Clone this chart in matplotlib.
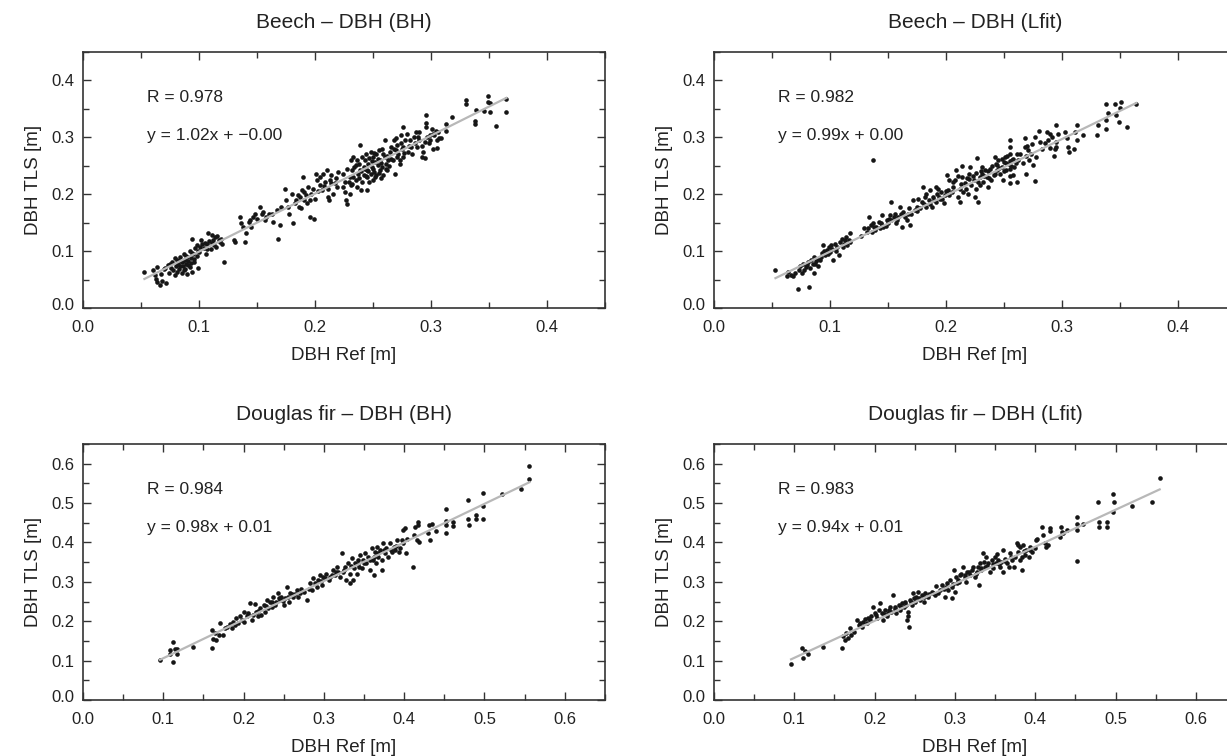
import numpy as np
import matplotlib.pyplot as plt
from matplotlib.ticker import MultipleLocator, FormatStrFormatter
from matplotlib.transforms import ScaledTranslation

plt.rcParams['font.family'] = ['Liberation Sans', 'DejaVu Sans']

titles = ['Beech \u2013 DBH (BH)', 'Beech \u2013 DBH (Lfit)',
          'Douglas fir \u2013 DBH (BH)', 'Douglas fir \u2013 DBH (Lfit)']
r_text = ['R = 0.978', 'R = 0.982', 'R = 0.984', 'R = 0.983']
fit_text = ['y = 1.02x + \u22120.00', 'y = 0.99x + 0.00',
            'y = 0.98x + 0.01', 'y = 0.94x + 0.01']
slopes = [1.02, 0.99, 0.98, 0.94]
intercepts = [-0.003, 0.0, 0.008, 0.013]
axis_max = [0.45, 0.45, 0.65, 0.65]

# DBH Ref [m], DBH TLS [m] pairs
beech_bh = np.array([
    (0.053, 0.063), (0.060, 0.066), (0.062, 0.058), (0.063, 0.051), (0.064, 0.045), (0.066, 0.041),
    (0.068, 0.047), (0.072, 0.044), (0.064, 0.072), (0.067, 0.060), (0.070, 0.068), (0.073, 0.075),
    (0.074, 0.062), (0.076, 0.070), (0.077, 0.080), (0.078, 0.066), (0.079, 0.058), (0.080, 0.073),
    (0.081, 0.085), (0.082, 0.078), (0.083, 0.069), (0.084, 0.090), (0.085, 0.080), (0.085, 0.062),
    (0.086, 0.074), (0.087, 0.095), (0.088, 0.085), (0.088, 0.068), (0.089, 0.078), (0.090, 0.090),
    (0.090, 0.060), (0.091, 0.083), (0.092, 0.072), (0.092, 0.100), (0.093, 0.088), (0.094, 0.064),
    (0.095, 0.095), (0.096, 0.080), (0.097, 0.105), (0.098, 0.091), (0.099, 0.070),
    (0.071, 0.071), (0.075, 0.077), (0.079, 0.088), (0.081, 0.064), (0.083, 0.082), (0.084, 0.074),
    (0.086, 0.083), (0.087, 0.066), (0.089, 0.092), (0.091, 0.076), (0.093, 0.079), (0.094, 0.097),
    (0.096, 0.087), (0.099, 0.101), (0.103, 0.112), (0.107, 0.104), (0.111, 0.114), (0.117, 0.120),
    (0.094, 0.122), (0.098, 0.110), (0.101, 0.108), (0.105, 0.115), (0.108, 0.131), (0.111, 0.128),
    (0.112, 0.119), (0.114, 0.125), (0.115, 0.108), (0.118, 0.116), (0.122, 0.081),
    (0.100, 0.098), (0.102, 0.120), (0.104, 0.105), (0.106, 0.095), (0.107, 0.112), (0.109, 0.118),
    (0.110, 0.103), (0.113, 0.110), (0.116, 0.127), (0.119, 0.122), (0.120, 0.112),
    (0.130, 0.119), (0.131, 0.116), (0.135, 0.160), (0.136, 0.149), (0.138, 0.143), (0.140, 0.116),
    (0.141, 0.131), (0.143, 0.152), (0.144, 0.154), (0.145, 0.143), (0.147, 0.160), (0.148, 0.166),
    (0.150, 0.157), (0.153, 0.178), (0.154, 0.166), (0.155, 0.169), (0.157, 0.154), (0.158, 0.160),
    (0.160, 0.166), (0.163, 0.166), (0.164, 0.151), (0.167, 0.172), (0.168, 0.122), (0.170, 0.146),
    (0.171, 0.178),
    (0.174, 0.210), (0.175, 0.189), (0.177, 0.178), (0.178, 0.166), (0.180, 0.201), (0.181, 0.149),
    (0.183, 0.184), (0.184, 0.189), (0.186, 0.178), (0.187, 0.195), (0.189, 0.207), (0.190, 0.230),
    (0.191, 0.189), (0.191, 0.204), (0.193, 0.184), (0.194, 0.213), (0.196, 0.160), (0.197, 0.201),
    (0.199, 0.156), (0.200, 0.192), (0.201, 0.236), (0.202, 0.225), (0.204, 0.216), (0.204, 0.230),
    (0.206, 0.207), (0.207, 0.236), (0.209, 0.222), (0.210, 0.242), (0.211, 0.195), (0.211, 0.210),
    (0.212, 0.189), (0.213, 0.225), (0.214, 0.234), (0.216, 0.201), (0.217, 0.219), (0.219, 0.213),
    (0.220, 0.239), (0.185, 0.198), (0.192, 0.198), (0.198, 0.210), (0.203, 0.205), (0.208, 0.215),
    (0.214, 0.220), (0.218, 0.228), (0.196, 0.190), (0.188, 0.175),
    (0.224, 0.236), (0.224, 0.213), (0.226, 0.204), (0.227, 0.189), (0.228, 0.183), (0.229, 0.222),
    (0.230, 0.230), (0.230, 0.201), (0.231, 0.260), (0.231, 0.216), (0.232, 0.242), (0.233, 0.265),
    (0.233, 0.230), (0.234, 0.248), (0.235, 0.225), (0.236, 0.213), (0.236, 0.260), (0.237, 0.236),
    (0.238, 0.254), (0.239, 0.242), (0.239, 0.286), (0.240, 0.207), (0.241, 0.265), (0.242, 0.248),
    (0.242, 0.233), (0.243, 0.260), (0.244, 0.271), (0.245, 0.242), (0.245, 0.207), (0.245, 0.230),
    (0.246, 0.254), (0.247, 0.263), (0.248, 0.236), (0.248, 0.274), (0.249, 0.248), (0.250, 0.225),
    (0.250, 0.265), (0.251, 0.239), (0.252, 0.257), (0.253, 0.233), (0.253, 0.271), (0.254, 0.251),
    (0.255, 0.277), (0.256, 0.242), (0.256, 0.260), (0.257, 0.228), (0.258, 0.280), (0.258, 0.248),
    (0.259, 0.233), (0.260, 0.265), (0.260, 0.295), (0.261, 0.254), (0.262, 0.242), (0.263, 0.260),
    (0.226, 0.222), (0.228, 0.245), (0.232, 0.218), (0.235, 0.252), (0.238, 0.228), (0.240, 0.240),
    (0.241, 0.222), (0.243, 0.245), (0.244, 0.232), (0.246, 0.240), (0.247, 0.221), (0.249, 0.258),
    (0.250, 0.245), (0.251, 0.272), (0.252, 0.230), (0.254, 0.262), (0.255, 0.238), (0.257, 0.255),
    (0.259, 0.270), (0.261, 0.245), (0.262, 0.268), (0.264, 0.250), (0.266, 0.262), (0.268, 0.280),
    (0.271, 0.265), (0.274, 0.290), (0.277, 0.272), (0.281, 0.285), (0.284, 0.270), (0.289, 0.300),
    (0.292, 0.285), (0.298, 0.290), (0.302, 0.305), (0.306, 0.310),
    (0.265, 0.274), (0.266, 0.283), (0.267, 0.260), (0.268, 0.295), (0.269, 0.236), (0.270, 0.277),
    (0.270, 0.298), (0.271, 0.286), (0.272, 0.271), (0.273, 0.254), (0.273, 0.260), (0.274, 0.304),
    (0.275, 0.280), (0.276, 0.265), (0.276, 0.319), (0.276, 0.283), (0.278, 0.295), (0.279, 0.306),
    (0.280, 0.274), (0.282, 0.295), (0.283, 0.283), (0.285, 0.301), (0.286, 0.290), (0.287, 0.309),
    (0.288, 0.283), (0.290, 0.295), (0.290, 0.309), (0.292, 0.265), (0.293, 0.274), (0.295, 0.263),
    (0.295, 0.292), (0.296, 0.340), (0.296, 0.325), (0.296, 0.318), (0.297, 0.301), (0.299, 0.304),
    (0.299, 0.295), (0.301, 0.315), (0.302, 0.280), (0.303, 0.304), (0.304, 0.312), (0.305, 0.295),
    (0.305, 0.282), (0.307, 0.299), (0.309, 0.299), (0.313, 0.324), (0.313, 0.311),
    (0.318, 0.336), (0.330, 0.366), (0.330, 0.358), (0.338, 0.329), (0.338, 0.324), (0.339, 0.348),
    (0.346, 0.347), (0.349, 0.372), (0.349, 0.362), (0.351, 0.360), (0.351, 0.344), (0.356, 0.320),
    (0.365, 0.344), (0.365, 0.367),
])

beech_lfit = np.array([
    (0.053, 0.067), (0.064, 0.064), (0.063, 0.056), (0.066, 0.058), (0.068, 0.056), (0.072, 0.033),
    (0.073, 0.067), (0.074, 0.073), (0.076, 0.061), (0.077, 0.078), (0.078, 0.067), (0.080, 0.075),
    (0.081, 0.081), (0.082, 0.037), (0.083, 0.070), (0.084, 0.084), (0.086, 0.090), (0.086, 0.061),
    (0.087, 0.078), (0.089, 0.087), (0.090, 0.073), (0.091, 0.084), (0.093, 0.096), (0.094, 0.111),
    (0.096, 0.093), (0.097, 0.102), (0.099, 0.108), (0.100, 0.099), (0.101, 0.111), (0.103, 0.085),
    (0.104, 0.113), (0.106, 0.108), (0.108, 0.093), (0.109, 0.116), (0.110, 0.122), (0.111, 0.108),
    (0.113, 0.119), (0.114, 0.125), (0.116, 0.119), (0.117, 0.131), (0.117, 0.116),
    (0.070, 0.062), (0.079, 0.072), (0.085, 0.078), (0.088, 0.082), (0.092, 0.090), (0.095, 0.100),
    (0.098, 0.095), (0.102, 0.104), (0.105, 0.100), (0.112, 0.113), (0.115, 0.110),
    (0.127, 0.126), (0.129, 0.140), (0.132, 0.134), (0.133, 0.140), (0.134, 0.160), (0.135, 0.146),
    (0.136, 0.134), (0.137, 0.261), (0.137, 0.149), (0.139, 0.137), (0.140, 0.143), (0.142, 0.151),
    (0.143, 0.140), (0.145, 0.146), (0.145, 0.163), (0.146, 0.143), (0.149, 0.154), (0.150, 0.149),
    (0.152, 0.163), (0.153, 0.187), (0.153, 0.154), (0.155, 0.160), (0.156, 0.166), (0.157, 0.149),
    (0.159, 0.160), (0.160, 0.178), (0.162, 0.143), (0.163, 0.169), (0.165, 0.160), (0.166, 0.154),
    (0.168, 0.175), (0.169, 0.146), (0.170, 0.166),
    (0.138, 0.142), (0.144, 0.149), (0.148, 0.145), (0.151, 0.157), (0.158, 0.155), (0.161, 0.165),
    (0.167, 0.165), (0.175, 0.170), (0.181, 0.183), (0.186, 0.182), (0.190, 0.190), (0.194, 0.196),
    (0.197, 0.192), (0.200, 0.205), (0.203, 0.198),
    (0.172, 0.189), (0.173, 0.172), (0.175, 0.178), (0.176, 0.192), (0.178, 0.175), (0.179, 0.187),
    (0.180, 0.213), (0.182, 0.195), (0.183, 0.178), (0.183, 0.201), (0.185, 0.189), (0.186, 0.207),
    (0.188, 0.178), (0.189, 0.195), (0.191, 0.213), (0.191, 0.187), (0.192, 0.201), (0.193, 0.210),
    (0.195, 0.192), (0.196, 0.204), (0.198, 0.184), (0.199, 0.198), (0.201, 0.233), (0.202, 0.207),
    (0.203, 0.225),
    (0.205, 0.204), (0.206, 0.213), (0.208, 0.225), (0.209, 0.242), (0.210, 0.195), (0.212, 0.210),
    (0.212, 0.187), (0.214, 0.230), (0.214, 0.249), (0.215, 0.204), (0.216, 0.219), (0.218, 0.228),
    (0.219, 0.201), (0.220, 0.236), (0.221, 0.248), (0.222, 0.216), (0.224, 0.225), (0.225, 0.195),
    (0.226, 0.210), (0.227, 0.263), (0.228, 0.187), (0.229, 0.230), (0.229, 0.216), (0.231, 0.248),
    (0.231, 0.236), (0.232, 0.222), (0.234, 0.242), (0.235, 0.230), (0.236, 0.213), (0.238, 0.245),
    (0.239, 0.225), (0.241, 0.234), (0.242, 0.265), (0.243, 0.254), (0.244, 0.242), (0.245, 0.260),
    (0.247, 0.236), (0.248, 0.248), (0.249, 0.225), (0.250, 0.257), (0.251, 0.265), (0.252, 0.242),
    (0.254, 0.254), (0.255, 0.295), (0.255, 0.283), (0.255, 0.271), (0.255, 0.219), (0.257, 0.260),
    (0.258, 0.233), (0.259, 0.248), (0.261, 0.271), (0.261, 0.222), (0.262, 0.260),
    (0.206, 0.222), (0.210, 0.232), (0.213, 0.218), (0.217, 0.210), (0.220, 0.226), (0.223, 0.232),
    (0.226, 0.238), (0.228, 0.222), (0.230, 0.240), (0.233, 0.232), (0.236, 0.240), (0.237, 0.228),
    (0.240, 0.250), (0.242, 0.236), (0.244, 0.252), (0.246, 0.246), (0.248, 0.262), (0.250, 0.240),
    (0.252, 0.255), (0.253, 0.268), (0.256, 0.250), (0.258, 0.262), (0.260, 0.255), (0.255, 0.258),
    (0.255, 0.245), (0.255, 0.232), (0.264, 0.270), (0.266, 0.255), (0.270, 0.285), (0.273, 0.270),
    (0.285, 0.290), (0.290, 0.282),
    (0.268, 0.298), (0.268, 0.283), (0.269, 0.268), (0.269, 0.236), (0.271, 0.277), (0.272, 0.260),
    (0.274, 0.289), (0.275, 0.251), (0.277, 0.301), (0.277, 0.223), (0.278, 0.265), (0.280, 0.312),
    (0.281, 0.292), (0.283, 0.280), (0.287, 0.309), (0.288, 0.295), (0.290, 0.306), (0.291, 0.301),
    (0.293, 0.268), (0.294, 0.280), (0.295, 0.321), (0.295, 0.292), (0.295, 0.283), (0.297, 0.306),
    (0.303, 0.309), (0.304, 0.298), (0.305, 0.283), (0.306, 0.274), (0.310, 0.280), (0.311, 0.309),
    (0.313, 0.321), (0.313, 0.295), (0.318, 0.304), (0.330, 0.304), (0.331, 0.321), (0.338, 0.359),
    (0.338, 0.330), (0.338, 0.315), (0.340, 0.342), (0.346, 0.359), (0.347, 0.339), (0.349, 0.327),
    (0.350, 0.351), (0.351, 0.362), (0.356, 0.318), (0.364, 0.359),
])

douglas_bh = np.array([
    (0.096, 0.102), (0.108, 0.118), (0.108, 0.127), (0.112, 0.146), (0.115, 0.129), (0.117, 0.118),
    (0.117, 0.129), (0.112, 0.097), (0.137, 0.134), (0.161, 0.133), (0.161, 0.178), (0.162, 0.154),
    (0.166, 0.152), (0.164, 0.169), (0.171, 0.195), (0.169, 0.165), (0.175, 0.165), (0.177, 0.182),
    (0.179, 0.186), (0.183, 0.193), (0.185, 0.182), (0.187, 0.199), (0.189, 0.190), (0.191, 0.207),
    (0.193, 0.195), (0.196, 0.212), (0.198, 0.203), (0.200, 0.224), (0.200, 0.199), (0.204, 0.212),
    (0.206, 0.220), (0.208, 0.245), (0.210, 0.203), (0.212, 0.216), (0.214, 0.244), (0.216, 0.224),
    (0.218, 0.212), (0.220, 0.233), (0.222, 0.216), (0.225, 0.241), (0.227, 0.224), (0.229, 0.254),
    (0.231, 0.233), (0.233, 0.250), (0.235, 0.237), (0.237, 0.262), (0.239, 0.241), (0.241, 0.250),
    (0.243, 0.271), (0.245, 0.254), (0.247, 0.262), (0.250, 0.241), (0.252, 0.258), (0.254, 0.288),
    (0.256, 0.250), (0.258, 0.271), (0.262, 0.262), (0.266, 0.279), (0.270, 0.271), (0.279, 0.254),
    (0.283, 0.296), (0.285, 0.279), (0.287, 0.309), (0.291, 0.288), (0.293, 0.305), (0.295, 0.317),
    (0.298, 0.292), (0.299, 0.313), (0.303, 0.321), (0.306, 0.305), (0.308, 0.313), (0.312, 0.330),
    (0.314, 0.317), (0.316, 0.338), (0.318, 0.326),
    (0.205, 0.215), (0.218, 0.225), (0.228, 0.238), (0.236, 0.248), (0.244, 0.258), (0.249, 0.252),
    (0.255, 0.262), (0.260, 0.268), (0.264, 0.270), (0.268, 0.262), (0.272, 0.282), (0.275, 0.275),
    (0.281, 0.282), (0.289, 0.298), (0.296, 0.302), (0.302, 0.310), (0.310, 0.318), (0.315, 0.325),
    (0.325, 0.330), (0.334, 0.340), (0.342, 0.345), (0.350, 0.348), (0.355, 0.362), (0.361, 0.355),
    (0.367, 0.372), (0.375, 0.382), (0.383, 0.380), (0.390, 0.392), (0.398, 0.398),
    (0.320, 0.313), (0.322, 0.372), (0.324, 0.326), (0.326, 0.338), (0.328, 0.305), (0.330, 0.347),
    (0.332, 0.296), (0.333, 0.321), (0.335, 0.360), (0.336, 0.305), (0.337, 0.334), (0.339, 0.347),
    (0.341, 0.321), (0.343, 0.355), (0.344, 0.338), (0.345, 0.368), (0.347, 0.334), (0.349, 0.355),
    (0.351, 0.372), (0.353, 0.347), (0.357, 0.355), (0.358, 0.330), (0.360, 0.385), (0.362, 0.317),
    (0.362, 0.364), (0.364, 0.377), (0.365, 0.347), (0.366, 0.389), (0.368, 0.364), (0.370, 0.381),
    (0.372, 0.355), (0.373, 0.330), (0.374, 0.398), (0.376, 0.372), (0.378, 0.385), (0.380, 0.364),
    (0.382, 0.398), (0.385, 0.377), (0.387, 0.389), (0.389, 0.381), (0.391, 0.406), (0.393, 0.377),
    (0.395, 0.385), (0.397, 0.406), (0.399, 0.431), (0.401, 0.436), (0.402, 0.372), (0.403, 0.410),
    (0.411, 0.338), (0.412, 0.418), (0.413, 0.440), (0.416, 0.406), (0.417, 0.453), (0.417, 0.444),
    (0.419, 0.401), (0.430, 0.423), (0.431, 0.444), (0.432, 0.406), (0.435, 0.447), (0.440, 0.430),
    (0.452, 0.484), (0.452, 0.455), (0.452, 0.444), (0.452, 0.423), (0.461, 0.453), (0.461, 0.442),
    (0.479, 0.508), (0.480, 0.459), (0.481, 0.444), (0.489, 0.470), (0.490, 0.459), (0.498, 0.526),
    (0.498, 0.492), (0.498, 0.460), (0.522, 0.523), (0.546, 0.537), (0.556, 0.594), (0.556, 0.560),
])

douglas_lfit = np.array([
    (0.096, 0.091), (0.109, 0.131), (0.111, 0.106), (0.113, 0.125), (0.117, 0.118), (0.136, 0.135),
    (0.160, 0.131), (0.161, 0.162), (0.163, 0.152), (0.165, 0.169), (0.167, 0.157), (0.169, 0.182),
    (0.171, 0.165), (0.174, 0.173), (0.178, 0.203), (0.180, 0.190), (0.182, 0.195), (0.184, 0.186),
    (0.186, 0.199), (0.188, 0.205), (0.190, 0.195), (0.192, 0.207), (0.194, 0.203), (0.196, 0.212),
    (0.198, 0.237), (0.200, 0.220), (0.203, 0.207), (0.205, 0.228), (0.207, 0.247), (0.209, 0.220),
    (0.211, 0.203), (0.213, 0.228), (0.215, 0.212), (0.217, 0.220), (0.219, 0.237), (0.221, 0.224),
    (0.223, 0.266), (0.225, 0.237), (0.227, 0.220), (0.230, 0.241), (0.232, 0.228), (0.234, 0.245),
    (0.236, 0.237), (0.238, 0.250), (0.240, 0.203), (0.241, 0.224), (0.242, 0.212), (0.243, 0.186),
    (0.244, 0.254), (0.246, 0.241), (0.248, 0.271), (0.250, 0.250), (0.252, 0.262), (0.254, 0.275),
    (0.257, 0.254), (0.259, 0.266), (0.261, 0.250), (0.263, 0.271), (0.267, 0.262), (0.271, 0.275),
    (0.275, 0.266), (0.277, 0.289), (0.279, 0.271), (0.284, 0.292), (0.286, 0.283), (0.288, 0.262),
    (0.290, 0.296), (0.292, 0.279),
    (0.202, 0.215), (0.212, 0.218), (0.218, 0.228), (0.226, 0.232), (0.233, 0.235), (0.239, 0.242),
    (0.245, 0.248), (0.249, 0.258), (0.255, 0.260), (0.262, 0.262), (0.268, 0.270), (0.273, 0.272),
    (0.282, 0.278), (0.289, 0.288), (0.298, 0.295), (0.305, 0.300), (0.313, 0.318), (0.318, 0.325),
    (0.326, 0.320), (0.332, 0.335), (0.340, 0.340), (0.347, 0.345), (0.355, 0.345), (0.362, 0.352),
    (0.370, 0.362), (0.378, 0.375), (0.386, 0.378), (0.393, 0.382),
    (0.294, 0.305), (0.296, 0.258), (0.297, 0.288), (0.299, 0.330), (0.300, 0.275), (0.301, 0.313),
    (0.302, 0.296), (0.304, 0.305), (0.306, 0.317), (0.308, 0.321), (0.310, 0.338), (0.312, 0.313),
    (0.314, 0.300), (0.315, 0.326), (0.319, 0.317), (0.321, 0.330), (0.323, 0.338), (0.325, 0.313),
    (0.327, 0.326), (0.329, 0.338), (0.330, 0.292), (0.331, 0.347), (0.333, 0.330), (0.335, 0.372),
    (0.336, 0.351), (0.337, 0.338), (0.339, 0.364), (0.341, 0.347), (0.344, 0.326), (0.346, 0.355),
    (0.348, 0.334), (0.350, 0.364), (0.351, 0.347), (0.352, 0.370), (0.354, 0.355), (0.356, 0.338),
    (0.358, 0.351), (0.360, 0.326), (0.360, 0.381), (0.363, 0.359), (0.365, 0.347), (0.367, 0.338),
    (0.369, 0.372), (0.371, 0.355), (0.373, 0.338), (0.375, 0.364), (0.377, 0.398), (0.379, 0.394),
    (0.381, 0.355), (0.381, 0.389), (0.383, 0.364), (0.384, 0.330), (0.385, 0.394), (0.387, 0.368),
    (0.389, 0.381), (0.392, 0.364), (0.394, 0.389), (0.396, 0.377), (0.400, 0.385), (0.401, 0.406),
    (0.402, 0.410), (0.408, 0.438), (0.410, 0.418), (0.412, 0.398), (0.414, 0.389), (0.416, 0.394),
    (0.418, 0.430), (0.419, 0.436), (0.431, 0.415), (0.432, 0.440), (0.433, 0.427), (0.435, 0.423),
    (0.439, 0.431), (0.452, 0.465), (0.452, 0.448), (0.452, 0.431), (0.452, 0.353), (0.460, 0.448),
    (0.478, 0.503), (0.480, 0.453), (0.480, 0.440), (0.489, 0.453), (0.490, 0.438), (0.497, 0.523),
    (0.498, 0.503), (0.497, 0.478), (0.521, 0.492), (0.545, 0.503), (0.555, 0.564),
])

datasets = [beech_bh, beech_lfit, douglas_bh, douglas_lfit]

fig = plt.figure(figsize=(12.27, 7.56), dpi=100)
w, h = 0.4254, 0.3386
positions = [[0.0676, 0.5926, w, h], [0.5819, 0.5926, w, h],
             [0.0676, 0.0741, w, h], [0.5819, 0.0741, w, h]]

for i, data in enumerate(datasets):
    ax = fig.add_axes(positions[i])
    top = axis_max[i]
    ax.scatter(data[:, 0], data[:, 1], s=11, color='#161616', linewidths=0, zorder=3)
    xs = np.array([data[:, 0].min(), data[:, 0].max()])
    ax.plot(xs, slopes[i] * xs + intercepts[i], color='#b8b8b8', lw=1.6, zorder=4)

    ax.set_xlim(0, top)
    ax.set_ylim(0, top)
    ticks = np.arange(0, top - 0.01, 0.1)
    ax.set_xticks(ticks)
    ax.set_yticks(ticks)
    ax.xaxis.set_minor_locator(MultipleLocator(0.05))
    ax.yaxis.set_minor_locator(MultipleLocator(0.05))
    ax.xaxis.set_major_formatter(FormatStrFormatter('%.1f'))
    ax.yaxis.set_major_formatter(FormatStrFormatter('%.1f'))
    ax.tick_params(which='both', direction='in', top=True, right=True,
                   color='#333333', width=1.0, labelsize=12, labelcolor='#222222')
    ax.tick_params(which='major', length=6)
    ax.tick_params(axis='x', which='major', pad=9)
    ax.tick_params(axis='y', which='major', pad=6)
    ax.tick_params(which='minor', length=4)
    for sp in ax.spines.values():
        sp.set_linewidth(1.2)
        sp.set_color('#333333')

    # lift the 0.0 label on the y axis a little, as in the original
    lab0 = ax.yaxis.get_major_ticks()[0].label1
    lab0.set_transform(lab0.get_transform() + ScaledTranslation(0, 0.04, fig.dpi_scale_trans))

    ax.set_title(titles[i], fontsize=15, color='#222222', pad=17)
    ax.set_xlabel('DBH Ref [m]', fontsize=13.5, color='#222222', labelpad=8)
    ax.set_ylabel('DBH TLS [m]', fontsize=13.5, color='#222222', labelpad=7)
    ax.text(0.122, 0.824, r_text[i], transform=ax.transAxes, fontsize=12.5,
            va='center', ha='left', color='#222222')
    ax.text(0.122, 0.675, fit_text[i], transform=ax.transAxes, fontsize=12.5,
            va='center', ha='left', color='#222222')

fig.savefig('out.png', dpi=100)
